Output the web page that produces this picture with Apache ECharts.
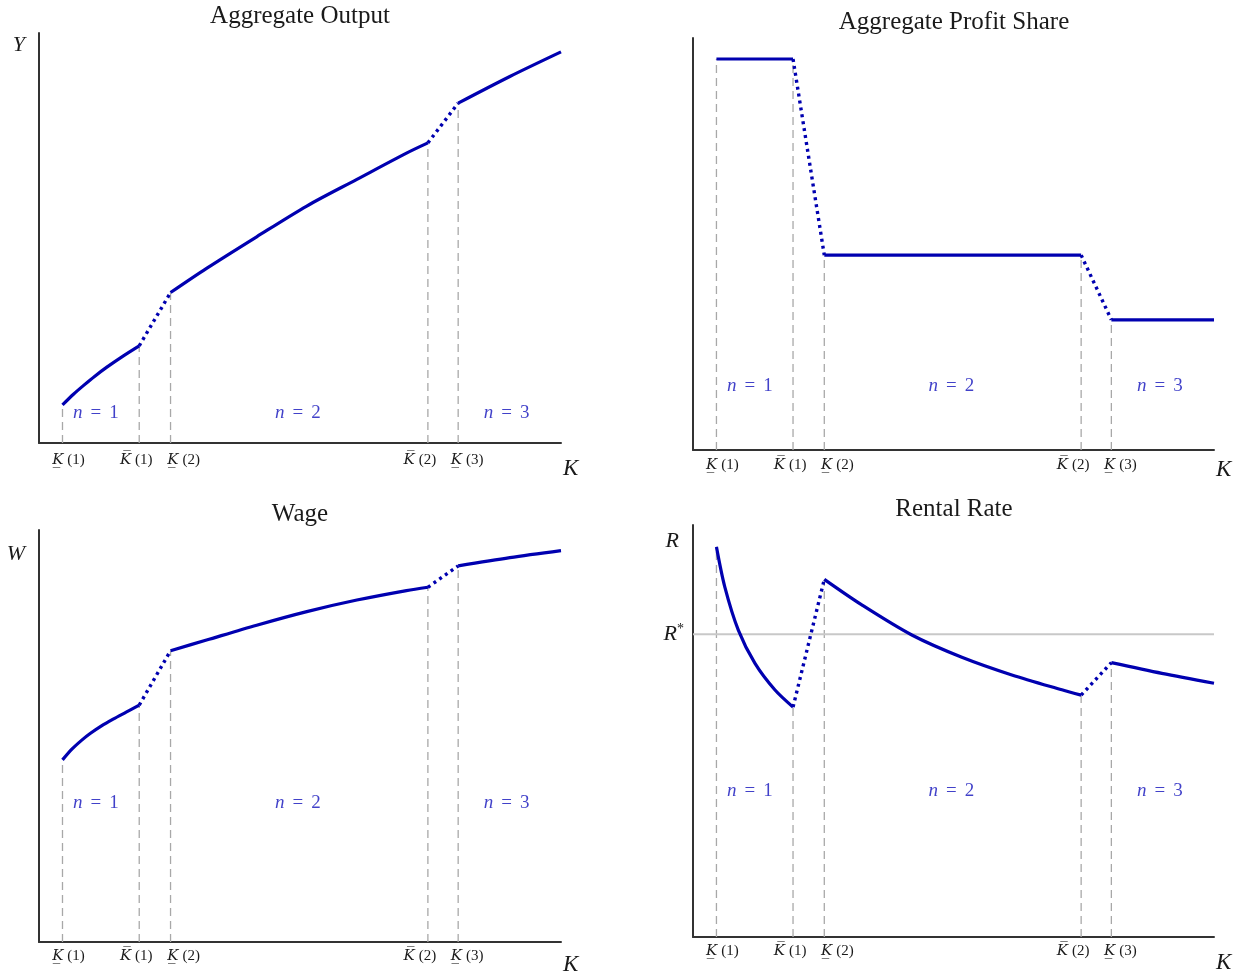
<!DOCTYPE html>
<html><head><meta charset="utf-8">
<script src="https://cdn.jsdelivr.net/npm/echarts@6/dist/echarts.min.js"></script>
<style>html,body{margin:0;padding:0;background:#fff}#c{width:1249px;height:976px}</style>
</head><body><div id="c"></div>
<script>
// ---------------- DATA ----------------
const K_THRESH = [4.5, 19.2, 25.2, 74.5, 80.3];           // K_(1), K^(1), K_(2), K^(2), K_(3)
const K_TICK_LABELS = ['K\u0332(1)', 'K\u0305(1)', 'K\u0332(2)', 'K\u0305(2)', 'K\u0332(3)'];
const REGION_LABELS = ['n = 1', 'n = 2', 'n = 3'];
const REGION_K = [10.9, 49.6, 89.6];
const TITLES = ['Aggregate Output', 'Aggregate Profit Share', 'Wage', 'Rental Rate'];
const Y_NAMES = ['Y', '', 'W', 'R'];
const X_NAME = 'K';
const R_STAR_LABEL = ['R', '*'];

// Aggregate output
const outputSeg1 = [[4.5, 9.3], [6.6, 11.9], [8.5, 14.0], [10.7, 16.3], [13.0, 18.5], [16.1, 21.2], [19.2, 23.7]];
const outputSeg2 = [[25.2, 36.7], [32.1, 42.6], [41.7, 50.3], [51.3, 57.8], [60.9, 64.3], [70.4, 70.7], [74.5, 73.2]];
const outputSeg3 = [[80.3, 82.9], [90.2, 89.4], [100, 95.4]];
// Aggregate profit share
const profitSeg1 = [[4.5, 94.9], [19.2, 94.9]];
const profitSeg2 = [[25.2, 47.3], [74.5, 47.3]];
const profitSeg3 = [[80.3, 31.6], [100, 31.6]];
// Wage
const wageSeg1 = [[4.5, 44.2], [6.3, 46.8], [8.2, 49.0], [9.8, 50.6], [11.9, 52.4], [14.2, 54.1], [16.7, 55.8], [19.2, 57.5]];
const wageSeg2 = [[25.2, 70.7], [32.1, 73.3], [41.7, 76.9], [51.3, 80.2], [60.9, 83.0], [70.4, 85.3], [74.5, 86.1]];
const wageSeg3 = [[80.3, 91.3], [90.2, 93.3], [100, 95.0]];
// Rental rate
const rentSeg1 = [[4.5, 94.7], [6.1, 85.0], [8.7, 74.5], [11.9, 66.4], [15.7, 60.0], [19.2, 55.8]];
const rentSeg2 = [[25.2, 86.8], [32.4, 80.6], [42.0, 73.3], [51.6, 67.9], [61.2, 63.6], [70.8, 60.0], [74.5, 58.7]];
const rentSeg3 = [[80.3, 66.6], [90.0, 64.0], [100, 61.6]];
const R_STAR = 73.5;
// height at which the "n = ..." labels sit in each panel
const REGION_LEVEL = [7.3, 15.5, 33.7, 35.4];

// ---------------- LAYOUT / STYLE ----------------
const PANEL_SEGS = [
  [outputSeg1, outputSeg2, outputSeg3],
  [profitSeg1, profitSeg2, profitSeg3],
  [wageSeg1, wageSeg2, wageSeg3],
  [rentSeg1, rentSeg2, rentSeg3]
];
const GRIDS = [
  {left: 39, top: 33, width: 522, height: 410},
  {left: 693, top: 38, width: 521, height: 412},
  {left: 39, top: 530, width: 522, height: 412},
  {left: 693, top: 525, width: 521, height: 412}
];
const TITLE_POS = [[300, 4], [954, 10], [300, 502], [954, 497]];
const XNAME_PAD = [14, 8, 11, 14];
const YNAME_GAP = [-12, 0, -24, -16];
const LABEL_MARGIN = [10, 8, 7, 7];
const LABEL_SHIFT = [6, -3, 13, -8, 9];
const CURVE = '#0000b0';
const NCOLOR = '#1212bb';
const TEXT = '#1a1a1a';
const SERIF = '"Liberation Serif", "DejaVu Serif", serif';

const tickRich = {};
LABEL_SHIFT.forEach((s, i) => {
  tickRich['k' + i] = {fontFamily: '"DejaVu Serif"', fontStyle: 'italic', fontSize: 15, color: TEXT,
    padding: [0, 0, 0, s > 0 ? 2 * s : 0]};
  tickRich['p' + i] = {fontFamily: SERIF, fontSize: 15, color: TEXT,
    padding: [0, s < 0 ? -2 * s : 0, 0, 4]};
});
function tickFormatter(v) {
  const i = K_THRESH.indexOf(v);
  if (i < 0) return '';
  const lab = K_TICK_LABELS[i];
  const cut = lab.indexOf('(');
  return '{k' + i + '|' + lab.slice(0, cut) + '}{p' + i + '|' + lab.slice(cut) + '}';
}

const grid = [], xAxis = [], yAxis = [], title = [], series = [];
for (let p = 0; p < 4; p++) {
  grid.push(Object.assign({containLabel: false}, GRIDS[p]));
  title.push({text: TITLES[p], left: TITLE_POS[p][0], top: TITLE_POS[p][1], textAlign: 'center', padding: 0,
    textStyle: {fontFamily: SERIF, fontWeight: 'normal', fontSize: 25, color: TEXT}});
  xAxis.push({
    type: 'value', gridIndex: p, min: 0, max: 100,
    axisLine: {show: true, onZero: false, lineStyle: {color: '#333', width: 2}},
    axisTick: {show: false}, splitLine: {show: false},
    axisLabel: {show: true, customValues: K_THRESH, formatter: tickFormatter, margin: LABEL_MARGIN[p], rich: tickRich},
    name: X_NAME, nameLocation: 'end', nameGap: 2,
    nameTextStyle: {fontFamily: SERIF, fontStyle: 'italic', fontSize: 23, color: TEXT,
      align: 'left', verticalAlign: 'top', padding: [XNAME_PAD[p], 0, 0, 0]}
  });
  const y = {
    type: 'value', gridIndex: p, min: 0, max: 100,
    axisLine: {show: true, onZero: false, lineStyle: {color: '#333', width: 2}},
    axisTick: {show: false}, splitLine: {show: false},
    axisLabel: {show: false},
    name: Y_NAMES[p], nameLocation: 'end', nameGap: YNAME_GAP[p],
    nameTextStyle: {fontFamily: SERIF, fontStyle: 'italic', fontSize: 22, color: TEXT,
      align: 'right', verticalAlign: 'middle', padding: [0, 14, 0, 0]}
  };
  if (p === 3) {
    y.axisLabel = {show: true, customValues: [R_STAR], margin: 9,
      formatter: () => '{r|' + R_STAR_LABEL[0] + '}{s|' + R_STAR_LABEL[1] + '}',
      rich: {r: {fontFamily: SERIF, fontStyle: 'italic', fontSize: 22, color: TEXT},
             s: {fontFamily: SERIF, fontSize: 14, color: TEXT, padding: [0, 0, 9, 0]}}};
  }
  yAxis.push(y);

  const segs = PANEL_SEGS[p];
  // guide heights at the thresholds, taken from the segment ends
  const guideH = [segs[0][0][1], segs[0][segs[0].length - 1][1], segs[1][0][1],
                  segs[1][segs[1].length - 1][1], segs[2][0][1]];
  K_THRESH.forEach((k, i) => {
    series.push({type: 'line', xAxisIndex: p, yAxisIndex: p, z: 1, silent: true, symbol: 'none',
      data: [[k, 0], [k, guideH[i]]],
      lineStyle: {color: '#a8a8a8', width: 1.3, type: [8, 5]}});
  });
  if (p === 3) {
    series.push({type: 'line', xAxisIndex: p, yAxisIndex: p, z: 1, silent: true, symbol: 'none',
      data: [[0, R_STAR], [100, R_STAR]], lineStyle: {color: '#c8c8c8', width: 2}});
  }
  // dotted transitions
  for (let s = 0; s < 2; s++) {
    const a = segs[s][segs[s].length - 1], b = segs[s + 1][0];
    series.push({type: 'line', xAxisIndex: p, yAxisIndex: p, z: 3, silent: true, symbol: 'none',
      data: [a, b], lineStyle: {color: CURVE, width: 3.4, type: [3, 4], cap: 'butt'}});
  }
  // solid segments
  segs.forEach(seg => {
    series.push({type: 'line', xAxisIndex: p, yAxisIndex: p, z: 4, silent: true, symbol: 'none',
      smooth: seg.length > 2 ? 0.3 : false,
      data: seg, lineStyle: {color: CURVE, width: 3.2, cap: 'butt'}});
  });
  // region labels
  series.push({type: 'scatter', xAxisIndex: p, yAxisIndex: p, z: 5, silent: true, symbolSize: 0,
    data: REGION_K.map((k, i) => ({value: [k, REGION_LEVEL[p]], name: REGION_LABELS[i]})),
    label: {show: true, position: 'inside',
      formatter: (d) => { const parts = d.name.split(' = '); return '{n|' + parts[0] + '}{e|=}{d|' + parts[1] + '}'; },
      rich: {
        n: {fontFamily: SERIF, fontStyle: 'italic', fontSize: 19, color: NCOLOR},
        e: {fontFamily: SERIF, fontSize: 19, color: NCOLOR, padding: [0, 8, 0, 8]},
        d: {fontFamily: SERIF, fontSize: 19, color: NCOLOR}
      }}});
}

const chart = echarts.init(document.getElementById('c'), null, {renderer: 'canvas'});
chart.setOption({animation: false, backgroundColor: '#fff', title, grid, xAxis, yAxis, series});
</script></body></html>
